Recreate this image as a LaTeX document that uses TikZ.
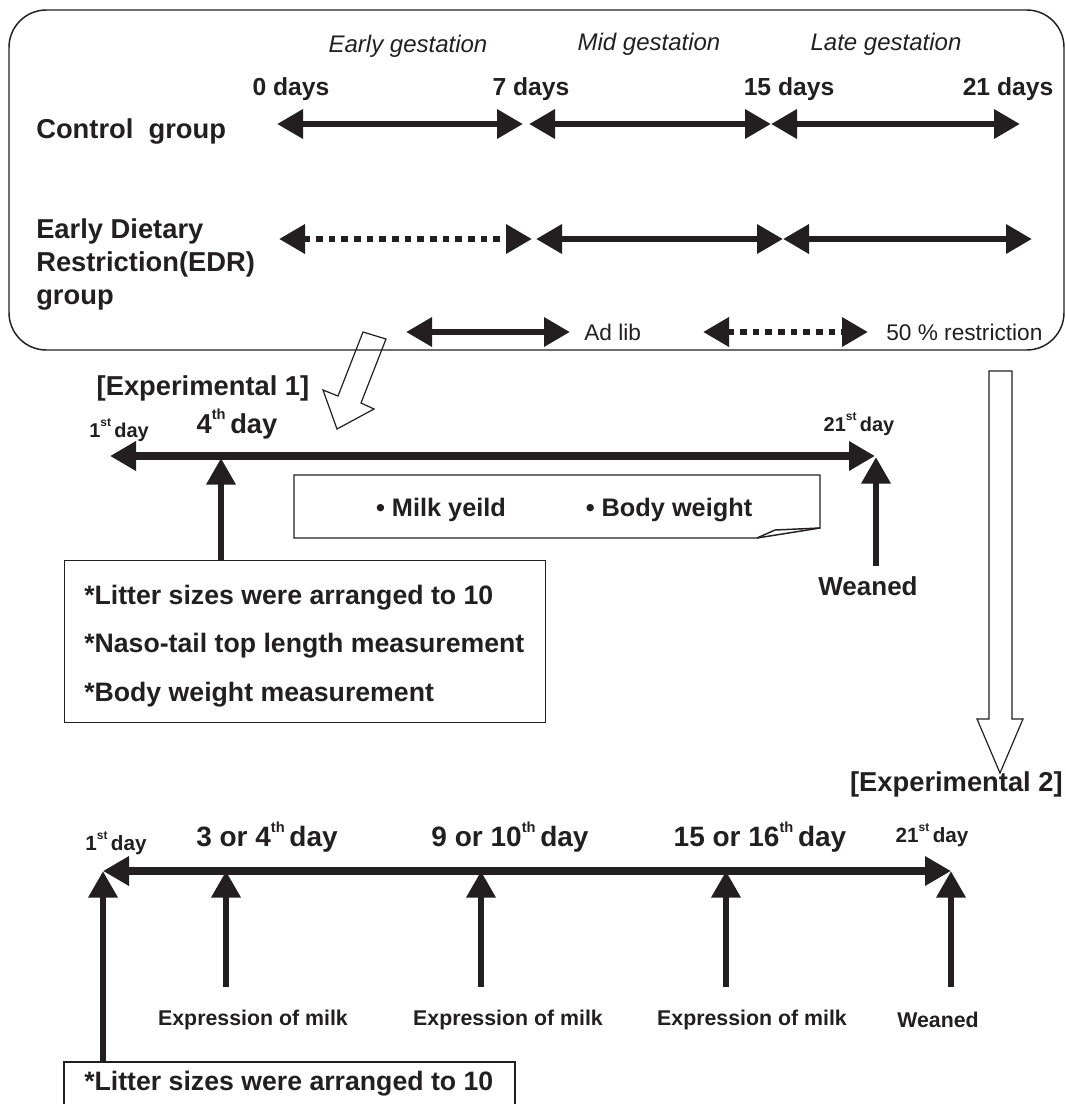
\documentclass[tikz,border=0pt]{standalone}
\usepackage{fontspec}
\setmainfont{Liberation Sans}
\usetikzlibrary{arrows.meta}
\definecolor{ink}{HTML}{231F20}
\newcommand{\supx}[1]{\raisebox{0.55em}{\fontsize{9}{9}\selectfont #1}}
\newcommand{\supy}[1]{\raisebox{0.5em}{\fontsize{11}{11}\selectfont #1}}
\begin{document}
\begin{tikzpicture}[x=0.75pt,y=-0.75pt,
  every node/.style={text=ink, inner sep=0pt},
  lbl/.style={font=\bfseries\fontsize{20.5}{25}\selectfont, align=left},
  daylbl/.style={font=\bfseries\fontsize{18.5}{22}\selectfont},
  gest/.style={font=\itshape\fontsize{18}{22}\selectfont},
  legtxt/.style={font=\fontsize{17}{20}\selectfont},
  dbl/.style={draw=ink, line width=5pt, {Triangle[length=19.5pt,width=21pt]}-{Triangle[length=19.5pt,width=21pt]}},
  sgl/.style={draw=ink, line width=5.2pt, -{Triangle[length=20pt,width=21pt]}},
  dots/.style={dash pattern=on 5pt off 4.5pt},
  thin/.style={draw=ink, line width=1.1pt},
  boxtxt/.style={font=\bfseries\fontsize{20}{24}\selectfont, anchor=west},
  smalllbl/.style={font=\bfseries\fontsize{16}{20}\selectfont},
]
\useasboundingbox (0,0) rectangle (1066,1104);

% ---------- top panel ----------
\draw[thin, rounded corners=28pt] (9,10) rectangle (1064,350);

\node[gest] (eg) at (408,46) {Early gestation};
\node[gest] (mg) at (649,44) {Mid gestation};
\node[gest] (lg) at (886,44) {Late gestation};

\node[daylbl] (d0) at (291,89) {0 days};
\node[daylbl] (d7) at (531,89) {7 days};
\node[daylbl] (d15) at (789,89) {15 days};
\node[daylbl] (d21) at (1008,89) {21 days};

\node[lbl, anchor=west] (ctrl) at (36,131) {Control\ \ group};
\node[lbl, anchor=north west] (edr) at (36,218) {Early Dietary\\Restriction(EDR)\\group};

\coordinate (ca) at (277,124);
\coordinate (cb) at (523,124);
\coordinate (cc) at (529,124);
\coordinate (cd) at (771,124);
\coordinate (ce) at (1020,124);
\draw[dbl] (ca) -- (cb);
\draw[dbl] (cc) -- (cd);
\draw[dbl] (cd) -- (ce);

\coordinate (ea) at (279,239);
\coordinate (eb) at (532,239);
\coordinate (ec) at (536,239);
\coordinate (ed) at (783,239);
\coordinate (ee) at (1032,239);
\draw[dbl, dots] (ea) -- (eb);
\draw[dbl] (ec) -- (ed);
\draw[dbl] (ed) -- (ee);

\coordinate (la) at (406,332);
\coordinate (lb) at (570,332);
\coordinate (lc) at (703,332);
\coordinate (ld) at (868,332);
\draw[dbl] (la) -- (lb);
\draw[dbl, dots] (lc) -- (ld);
\node[legtxt, anchor=west] (adlib) at (584,332) {Ad lib};
\node[legtxt, anchor=west] (restr) at (886,332) {50 \% restriction};

% ---------- hollow arrows ----------
\draw[draw=ink, line width=0.9pt, line join=miter]
  (363,332) -- (386,339) -- (361,403) -- (374,409) -- (337,429) -- (323,390) -- (338,396) -- cycle;
\draw[draw=ink, line width=0.9pt, line join=miter]
  (989,371) -- (1012,371) -- (1012,719) -- (1023,719) -- (1000,773) -- (977,719) -- (989,719) -- cycle;

% ---------- Experimental 1 ----------
\node[lbl] (exp1) at (203,388) {[Experimental 1]};
\node[font=\bfseries\fontsize{15}{18}\selectfont, anchor=west] (e1d1) at (89,430) {1\supx{st}\,day};
\node[font=\bfseries\fontsize{20.5}{24}\selectfont] (e1d4) at (237,424) {4\supy{th}\,day};
\node[font=\bfseries\fontsize{15}{18}\selectfont] (e1d21) at (859,424) {21\supx{st}\,day};

\coordinate (t1a) at (110,456);
\coordinate (t1b) at (875,456);
\draw[dbl, line width=5.6pt] (t1a) -- (t1b);

% note box with folded corner
\draw[thin, line join=miter] (757,538) -- (294,538) -- (294,475) -- (820,475) -- (820,528) -- cycle;
\draw[thin, line join=miter] (757,538) -- (775,530) -- (820,528);
\node[font=\bfseries\fontsize{19}{22}\selectfont] (milk) at (441,510) {\textbullet\ Milk yeild};
\node[font=\bfseries\fontsize{19}{22}\selectfont] (bw) at (669,510) {\textbullet\ Body weight};

% measurement box
\node[thin, draw, rectangle, minimum width=481pt*0.75, minimum height=162pt*0.75, anchor=north west] (m1) at (64,560) {};
\node[boxtxt] (m1a) at (84,598) {*Litter sizes were arranged to 10};
\node[boxtxt] (m1b) at (84,646) {*Naso-tail top length measurement};
\node[boxtxt] (m1c) at (84,695) {*Body weight measurement};

\coordinate (a4top) at (221,458);
\draw[sgl] (m1.north -| a4top) -- (a4top);

\node[font=\bfseries\fontsize{19.5}{22}\selectfont] (wean1) at (868,586) {Weaned};
\coordinate (w1top) at (876,457);
\coordinate (w1bot) at (876,566);
\draw[sgl] (w1bot) -- (w1top);

% ---------- Experimental 2 ----------
\node[lbl, anchor=east] (exp2) at (1063,784) {[Experimental 2]};
\node[font=\bfseries\fontsize{15.5}{18}\selectfont] (e2d1) at (116,843) {1\supx{st}\,day};
\node[font=\bfseries\fontsize{21}{24}\selectfont] (e2d3) at (267,837) {3 or 4\supy{th}\,day};
\node[font=\bfseries\fontsize{21}{24}\selectfont] (e2d9) at (510,837) {9 or 10\supy{th}\,day};
\node[font=\bfseries\fontsize{21}{24}\selectfont] (e2d15) at (760,837) {15 or 16\supy{th}\,day};
\node[font=\bfseries\fontsize{15.5}{18}\selectfont] (e2d21) at (932,835) {21\supx{st}\,day};

\coordinate (t2a) at (103,871);
\coordinate (t2b) at (951,871);
\draw[dbl, line width=5.6pt] (t2a) -- (t2b);

\coordinate (u2) at (226,871);
\coordinate (u3) at (481,871);
\coordinate (u4) at (726,871);
\coordinate (u5) at (951,871);
\coordinate (b2) at (226,987);
\coordinate (b3) at (481,987);
\coordinate (b4) at (726,987);
\coordinate (b5) at (951,987);
\draw[sgl] (b2) -- (u2);
\draw[sgl] (b3) -- (u3);
\draw[sgl] (b4) -- (u4);
\draw[sgl] (b5) -- (u5);

\node[smalllbl] (x1) at (253,1020) {Expression of milk};
\node[smalllbl] (x2) at (508,1020) {Expression of milk};
\node[smalllbl] (x3) at (752,1020) {Expression of milk};
\node[smalllbl] (wean2) at (938,1020) {Weaned};

% bottom box (runs off the page)
\coordinate (bb1) at (64,1104);
\coordinate (bb2) at (64,1062);
\coordinate (bb3) at (515,1062);
\coordinate (bb4) at (515,1104);
\draw[thin, line join=miter] (bb1) -- (bb2) -- (bb3) -- (bb4);
\node[boxtxt] (m2) at (84,1084) {*Litter sizes were arranged to 10};
\coordinate (u1) at (103,871);
\coordinate (b1) at (103,1063);
\draw[sgl] (b1) -- (u1);

\end{tikzpicture}
\end{document}
